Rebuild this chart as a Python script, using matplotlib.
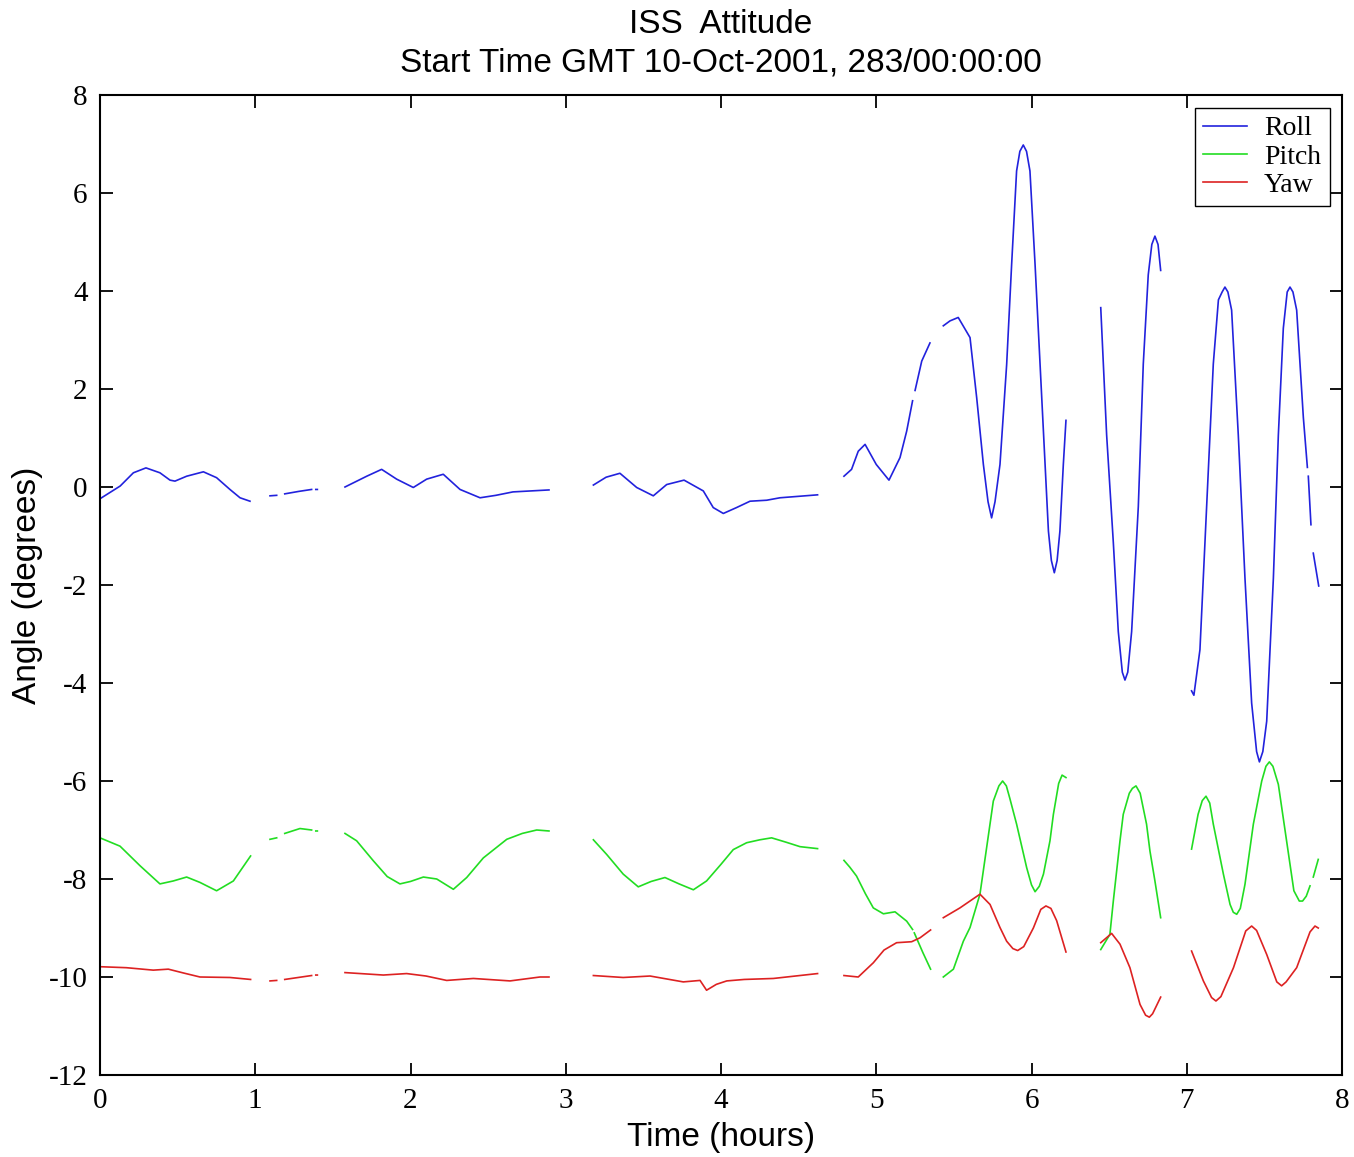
import numpy as np
from matplotlib import pyplot as plt

gap = np.nan

# time (hours) and angle (degrees), nan marks a data dropout
roll_t = [0, 0.13, 0.215, 0.296, 0.386, 0.451, 0.483, 0.558, 0.666, 0.751, 0.837, 0.902, 0.966, gap,
          1.095, 1.138, gap, 1.19, 1.28, 1.363, gap, 1.39, 1.40, gap,
          1.578, 1.718, 1.814, 1.911, 2.018, 2.104, 2.211, 2.319, 2.448, 2.55, 2.66, 2.834, 2.892, gap,
          3.178, 3.26, 3.349, 3.457, 3.564, 3.65, 3.762, 3.886, 3.95, 4.015, 4.10, 4.187, 4.294, 4.38, 4.50, 4.622, gap,
          4.792, 4.841, 4.884, 4.928, 5.0, 5.082, 5.153, 5.196, 5.234, gap,
          5.25, 5.293, 5.346, gap,
          5.432, 5.475, 5.528, 5.604, 5.647, 5.69, 5.72, 5.743, 5.765, 5.797, 5.84, 5.872, 5.904, 5.925,
          5.947, 5.968, 5.99, 6.023, 6.066, 6.109, 6.128, 6.147, 6.165, 6.183, 6.205, 6.222, gap,
          6.446, 6.484, 6.527, 6.559, 6.585, 6.602, 6.62, 6.645, 6.688, 6.72, 6.752, 6.775, 6.795, 6.815, 6.832, gap,
          7.031, 7.046, 7.085, 7.128, 7.171, 7.204, 7.228, 7.246, 7.265, 7.289, 7.332, 7.375, 7.418, 7.45,
          7.468, 7.49, 7.515, 7.558, 7.59, 7.622, 7.647, 7.665, 7.684, 7.708, 7.751, 7.777, gap,
          7.783, 7.80, gap, 7.815, 7.85]
roll_v = [-0.24, 0.02, 0.29, 0.39, 0.29, 0.14, 0.12, 0.22, 0.31, 0.19, -0.05, -0.22, -0.29, gap,
          -0.18, -0.17, gap, -0.14, -0.09, -0.05, gap, -0.05, -0.05, gap,
          0.0, 0.22, 0.36, 0.16, -0.01, 0.16, 0.26, -0.05, -0.22, -0.17, -0.1, -0.07, -0.06, gap,
          0.04, 0.2, 0.28, -0.01, -0.18, 0.05, 0.14, -0.08, -0.42, -0.54, -0.42, -0.29, -0.27, -0.22, -0.19, -0.16, gap,
          0.22, 0.36, 0.73, 0.87, 0.46, 0.14, 0.6, 1.14, 1.76, gap,
          1.97, 2.57, 2.94, gap,
          3.29, 3.39, 3.46, 3.05, 1.82, 0.46, -0.3, -0.63, -0.3, 0.46, 2.5, 4.54, 6.45, 6.85,
          6.98, 6.85, 6.45, 4.54, 1.82, -0.9, -1.5, -1.75, -1.5, -0.9, 0.46, 1.36, gap,
          3.66, 1.06, -1.13, -2.95, -3.78, -3.94, -3.78, -2.95, -0.40, 2.51, 4.33, 4.95, 5.12, 4.95, 4.42, gap,
          -4.16, -4.25, -3.32, -0.40, 2.51, 3.82, 3.98, 4.08, 3.98, 3.61, 1.06, -1.86, -4.41, -5.4,
          -5.61, -5.4, -4.78, -1.86, 1.06, 3.24, 3.98, 4.08, 3.98, 3.61, 1.42, 0.4, gap,
          0.22, -0.77, gap, -1.35, -2.02]

pitch_t = [0, 0.129, 0.258, 0.386, 0.472, 0.558, 0.644, 0.751, 0.859, 0.97, gap,
           1.095, 1.138, gap, 1.19, 1.288, 1.363, gap, 1.39, 1.40, gap,
           1.578, 1.653, 1.761, 1.85, 1.932, 2.0, 2.083, 2.169, 2.276, 2.362, 2.469, 2.62, 2.72, 2.813, 2.892, gap,
           3.178, 3.264, 3.37, 3.467, 3.55, 3.639, 3.73, 3.822, 3.907, 4.0, 4.079, 4.165, 4.25, 4.326, 4.42, 4.509, 4.622, gap,
           4.792, 4.83, 4.873, 4.93, 4.981, 5.046, 5.121, 5.196, 5.234, gap,
           5.245, 5.30, 5.35, gap,
           5.432, 5.497, 5.561, 5.604, 5.668, 5.711, 5.754, 5.79, 5.814, 5.838, 5.86, 5.904, 5.969, 6.0,
           6.023, 6.05, 6.077, 6.119, 6.141, 6.175, 6.197, 6.222, gap,
           6.446, 6.505, 6.527, 6.57, 6.591, 6.63, 6.65, 6.673, 6.70, 6.741, 6.763, 6.795, 6.832, gap,
           7.031, 7.073, 7.1, 7.124, 7.148, 7.171, 7.236, 7.279, 7.3, 7.322, 7.345, 7.375, 7.429, 7.483,
           7.51, 7.532, 7.555, 7.59, 7.643, 7.69, 7.725, 7.746, 7.77, 7.794, gap, 7.815, 7.847]
pitch_v = [-7.16, -7.33, -7.73, -8.10, -8.04, -7.96, -8.07, -8.24, -8.04, -7.53, gap,
           -7.19, -7.16, gap, -7.07, -6.97, -7.0, gap, -7.02, -7.02, gap,
           -7.07, -7.22, -7.63, -7.95, -8.10, -8.05, -7.96, -8.0, -8.21, -7.97, -7.57, -7.19, -7.07, -7.0, -7.02, gap,
           -7.20, -7.5, -7.9, -8.16, -8.05, -7.97, -8.1, -8.22, -8.04, -7.7, -7.40, -7.26, -7.2, -7.16, -7.25, -7.34, -7.38, gap,
           -7.62, -7.76, -7.94, -8.3, -8.59, -8.71, -8.67, -8.86, -9.03, gap,
           -9.1, -9.5, -9.84, gap,
           -10.0, -9.84, -9.27, -8.99, -8.31, -7.36, -6.41, -6.1, -6.0, -6.1, -6.35, -6.88, -7.77, -8.12,
           -8.26, -8.15, -7.9, -7.22, -6.68, -6.05, -5.88, -5.93, gap,
           -9.44, -9.13, -8.45, -7.22, -6.68, -6.25, -6.15, -6.10, -6.25, -6.88, -7.43, -8.04, -8.79, gap,
           -7.39, -6.68, -6.4, -6.31, -6.45, -6.88, -7.90, -8.52, -8.68, -8.72, -8.6, -8.11, -6.88, -6.0,
           -5.7, -5.61, -5.7, -6.07, -7.22, -8.24, -8.45, -8.45, -8.35, -8.14, gap, -7.96, -7.6]

yaw_t = [0, 0.17, 0.343, 0.44, 0.54, 0.644, 0.837, 0.97, gap,
         1.095, 1.138, gap, 1.19, 1.363, gap, 1.39, 1.40, gap,
         1.578, 1.825, 1.975, 2.1, 2.233, 2.405, 2.641, 2.834, 2.892, gap,
         3.178, 3.37, 3.543, 3.757, 3.865, 3.907, 3.97, 4.037, 4.15, 4.337, 4.622, gap,
         4.792, 4.884, 4.981, 5.05, 5.131, 5.228, 5.282, 5.35, gap,
         5.432, 5.539, 5.668, 5.733, 5.797, 5.84, 5.88, 5.911, 5.95, 6.012, 6.06, 6.093, 6.125, 6.162, 6.222, gap,
         6.446, 6.516, 6.57, 6.634, 6.699, 6.735, 6.759, 6.78, 6.80, 6.832, gap,
         7.031, 7.107, 7.16, 7.188, 7.22, 7.301, 7.38, 7.418, 7.45, 7.515, 7.58, 7.611, 7.64, 7.708,
         7.794, 7.826, 7.847]
yaw_v = [-9.79, -9.81, -9.86, -9.84, -9.92, -10.0, -10.01, -10.05, gap,
         -10.08, -10.07, gap, -10.05, -9.97, gap, -9.96, -9.96, gap,
         -9.91, -9.96, -9.93, -9.98, -10.07, -10.03, -10.08, -10.0, -10.0, gap,
         -9.97, -10.01, -9.98, -10.1, -10.07, -10.27, -10.15, -10.08, -10.05, -10.03, -9.93, gap,
         -9.97, -10.0, -9.71, -9.45, -9.30, -9.28, -9.2, -9.04, gap,
         -8.79, -8.59, -8.31, -8.52, -8.99, -9.27, -9.42, -9.46, -9.38, -9.0, -8.62, -8.55, -8.6, -8.85, -9.49, gap,
         -9.30, -9.11, -9.33, -9.81, -10.56, -10.78, -10.82, -10.75, -10.62, -10.41, gap,
         -9.47, -10.08, -10.42, -10.49, -10.4, -9.81, -9.06, -8.96, -9.05, -9.54, -10.1, -10.18, -10.1, -9.81,
         -9.08, -8.96, -9.0]

xticks = [0, 1, 2, 3, 4, 5, 6, 7, 8]
yticks = [8, 6, 4, 2, 0, -2, -4, -6, -8, -10, -12]

fig = plt.figure(figsize=(13.54, 11.57), dpi=100)
ax = fig.add_axes([100 / 1354, 82 / 1157, 1242 / 1354, 980 / 1157])

ax.plot(roll_t, roll_v, color='#2222dd', lw=1.2, label='Roll')
ax.plot(pitch_t, pitch_v, color='#22dd22', lw=1.2, label='Pitch')
ax.plot(yaw_t, yaw_v, color='#dd2222', lw=1.2, label='Yaw')

ax.set_xlim(0, 8)
ax.set_ylim(-12, 8)
ax.set_xticks(xticks)
ax.set_yticks(yticks)
ax.set_xticklabels([str(x) for x in xticks], family='Liberation Serif', fontsize=21)
ax.set_yticklabels([str(y) for y in yticks], family='Liberation Serif', fontsize=21)
ax.tick_params(direction='in', length=9, width=1.3, top=True, right=True, pad=9)
for s in ax.spines.values():
    s.set_linewidth(1.5)

ax.set_xlabel('Time (hours)', family='Liberation Sans', fontsize=24, labelpad=6)
ax.set_ylabel('Angle (degrees)', family='Liberation Sans', fontsize=24, labelpad=4)
ax.set_title('ISS  Attitude\nStart Time GMT 10-Oct-2001, 283/00:00:00',
             family='Liberation Sans', fontsize=24, linespacing=1.3, pad=17)

leg = ax.legend(loc='upper right', prop={'family': 'Liberation Serif', 'size': 20},
                fancybox=False, framealpha=1, edgecolor='black', handlelength=1.6,
                borderaxespad=0.45, labelspacing=0.1, borderpad=0.3, handletextpad=0.6)
leg.get_frame().set_linewidth(1.0)

plt.savefig('out.png', dpi=100)
